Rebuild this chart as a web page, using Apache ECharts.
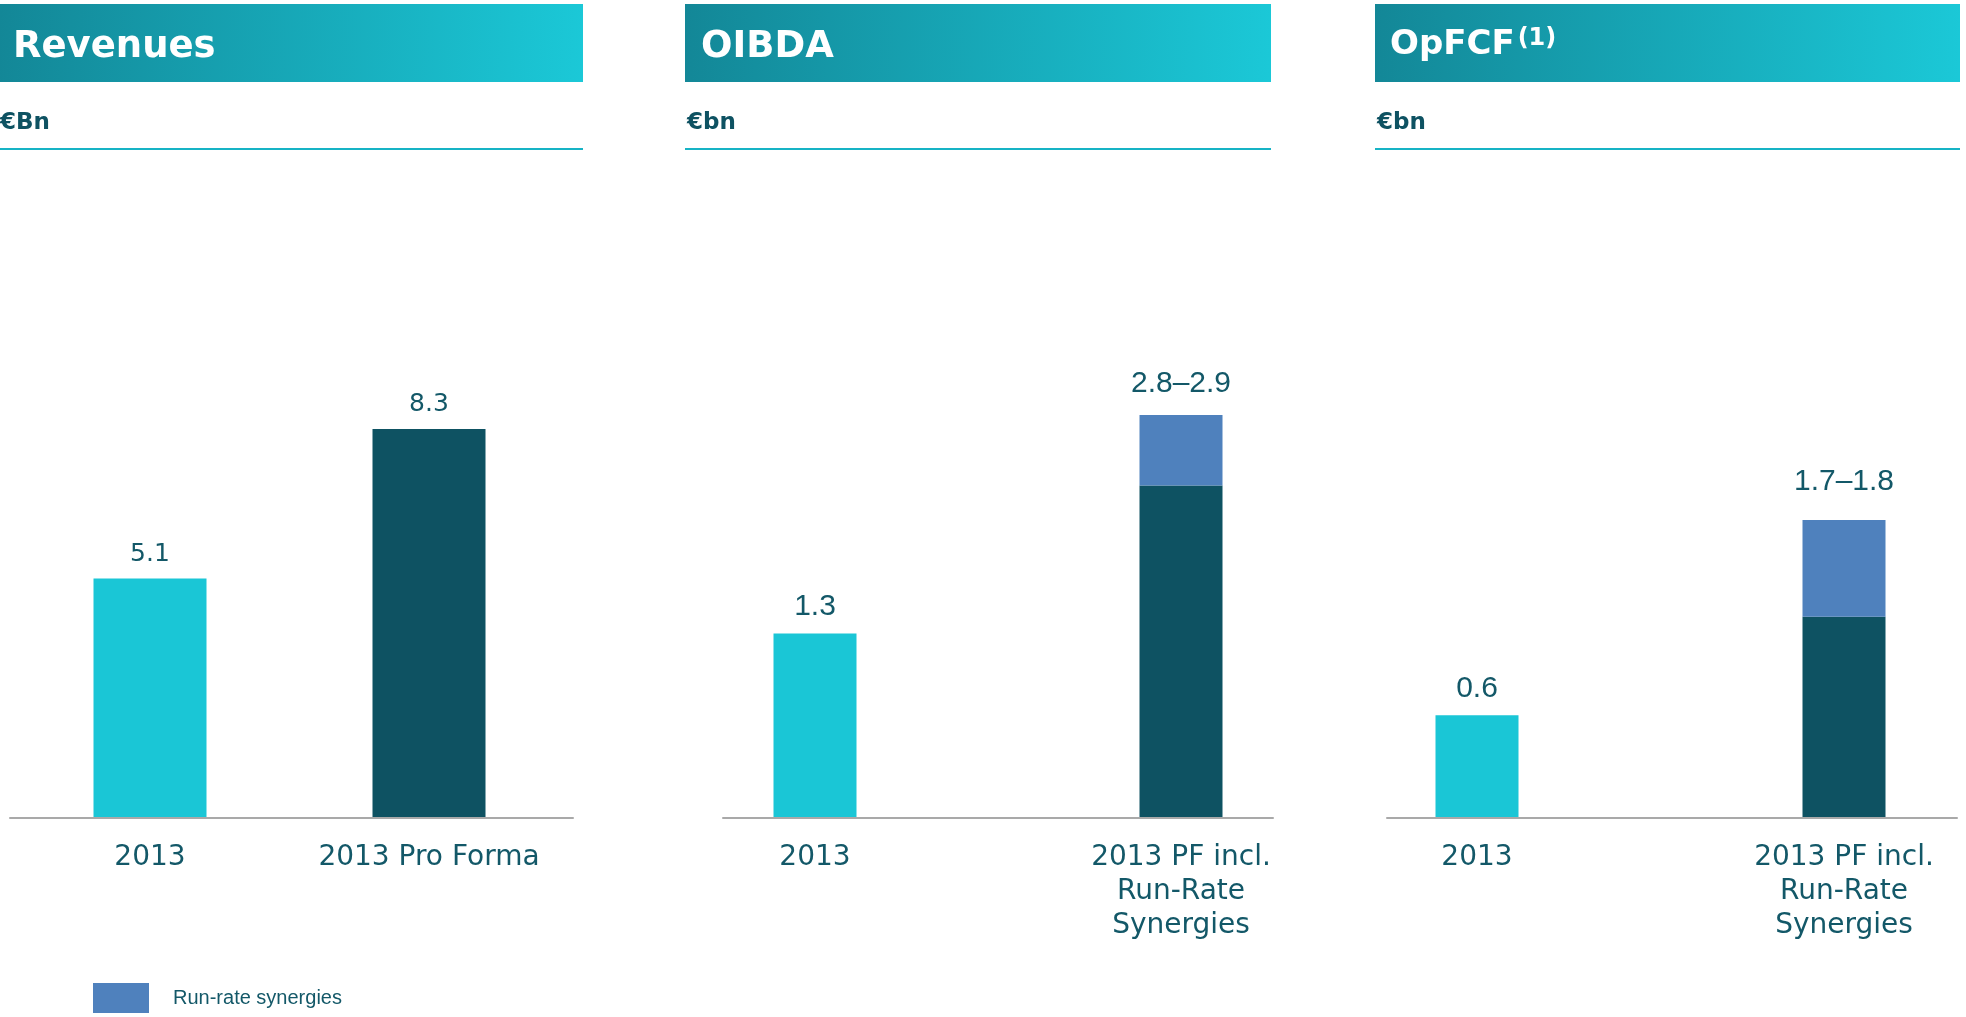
<!DOCTYPE html>
<html>
<head>
<meta charset="utf-8">
<script src="https://cdn.jsdelivr.net/npm/echarts@6/dist/echarts.min.js"></script>
<style>
  html, body { margin: 0; padding: 0; background: #fff; }
  #chart { width: 1966px; height: 1017px; }
</style>
</head>
<body>
<div id="chart"></div>
<script>
// data
const revCategories = ['2013', '2013 Pro Forma'];
const revValues = [5.1, 8.3];

const pfCategories = ['2013', '2013 PF incl.\nRun-Rate\nSynergies'];
const oibdaBase = [1.3, 2.35];
const oibdaSynergies = ['-', 0.5];
const oibdaLabels = ['1.3', '2.8–2.9'];

const opfcfBase = [0.6, 1.18];
const opfcfSynergies = ['-', 0.57];
const opfcfLabels = ['0.6', '1.7–1.8'];

const LIGHT = '#1AC6D6';
const DARK = '#0E5262';
const SYN = '#4F81BD';
const TEXT = '#135868';
const barColors = [LIGHT, DARK];

const catLabel = {
  fontFamily: 'DejaVu Sans',
  fontSize: 28,
  color: TEXT,
  lineHeight: 34,
  margin: 24,
  interval: 0
};

// categories sit on the grid edges so the two bars land where the slide has them
function dataXAxis(idx, cats) {
  return {
    type: 'category', gridIndex: idx, data: cats, boundaryGap: false,
    axisLine: { show: false }, axisTick: { show: false },
    axisLabel: catLabel
  };
}
function dataYAxis(idx, max) {
  return { type: 'value', gridIndex: idx, min: 0, max: max, show: false };
}
function baseItems(values, labels, dist) {
  return values.map((v, i) => ({
    value: v,
    itemStyle: { color: barColors[i] },
    label: { show: i === 0, distance: dist, formatter: labels[i] }
  }));
}

const chart = echarts.init(document.getElementById('chart'));

const headers = [
  { x: 0, w: 583 },
  { x: 685, w: 586 },
  { x: 1375, w: 585 }
];
const baselines = [
  { left: 10, width: 563 },
  { left: 723, width: 550 },
  { left: 1387, width: 570 }
];

const graphics = [];
headers.forEach(h => {
  graphics.push({
    type: 'rect', shape: { x: h.x, y: 4, width: h.w, height: 78 },
    style: { fill: new echarts.graphic.LinearGradient(0, 0, 1, 0.3, [
      { offset: 0, color: '#138797' },
      { offset: 1, color: '#1BC8D7' }
    ]) }
  });
  graphics.push({
    type: 'line', shape: { x1: h.x, y1: 149, x2: h.x + h.w, y2: 149 },
    style: { stroke: '#17B3C5', lineWidth: 2 }
  });
});

const titleFont = { fontFamily: 'DejaVu Sans', fontWeight: 'bold', fontSize: 37, color: '#fff' };
const unitFont = { fontFamily: 'DejaVu Sans', fontWeight: 'bold', fontSize: 23, color: '#0E5262' };

chart.setOption({
  animation: false,
  title: [
    { text: 'Revenues', left: 13, top: 29, padding: 0, textStyle: titleFont },
    { text: 'OIBDA', left: 701, top: 29, padding: 0, textStyle: titleFont },
    {
      text: '{a|OpFCF}{b|(1)}', left: 1390, top: 27, padding: 0,
      textStyle: {
        rich: {
          a: Object.assign({}, titleFont, { fontSize: 34 }),
          b: { fontFamily: 'DejaVu Sans', fontWeight: 'bold', fontSize: 24, color: '#fff', verticalAlign: 'top', padding: [0, 0, 12, 3] }
        }
      }
    },
    { text: '€Bn', left: 0, top: 112, padding: 0, textStyle: unitFont },
    { text: '€bn', left: 687, top: 112, padding: 0, textStyle: unitFont },
    { text: '€bn', left: 1377, top: 112, padding: 0, textStyle: unitFont }
  ],
  legend: {
    data: ['Run-rate synergies'],
    left: 93, top: 983, padding: 0,
    icon: 'rect', itemWidth: 56, itemHeight: 30,
    textStyle: { fontFamily: 'Liberation Sans', fontSize: 20, color: TEXT, padding: [0, 0, 0, 19] }
  },
  graphic: graphics,
  grid: [
    { left: 150, width: 279, top: 200, height: 617 },
    { left: 815, width: 366, top: 200, height: 617 },
    { left: 1477, width: 367, top: 200, height: 617 },
    // baselines
    { left: baselines[0].left, width: baselines[0].width, top: 800, height: 18 },
    { left: baselines[1].left, width: baselines[1].width, top: 800, height: 18 },
    { left: baselines[2].left, width: baselines[2].width, top: 800, height: 18 }
  ],
  xAxis: [
    dataXAxis(0, revCategories),
    dataXAxis(1, pfCategories),
    dataXAxis(2, pfCategories),
    ...[3, 4, 5].map(i => ({
      type: 'value', gridIndex: i, min: 0, max: 1,
      axisLine: { show: true, onZero: false, lineStyle: { color: '#A9A9A9', width: 2 } },
      axisTick: { show: false }, axisLabel: { show: false }, splitLine: { show: false }
    }))
  ],
  yAxis: [
    dataYAxis(0, 13.2),
    dataYAxis(1, 4.374),
    dataYAxis(2, 3.636),
    ...[3, 4, 5].map(i => ({ type: 'value', gridIndex: i, min: 0, max: 1, show: false }))
  ],
  series: [
    {
      name: 'Revenues', type: 'bar', xAxisIndex: 0, yAxisIndex: 0, barWidth: 113, clip: false,
      data: revValues.map((v, i) => ({ value: v, itemStyle: { color: barColors[i] } })),
      label: { show: true, position: 'top', distance: 12, fontFamily: 'DejaVu Sans', fontSize: 25, color: TEXT }
    },
    {
      name: 'OIBDA', type: 'bar', stack: 'oibda', xAxisIndex: 1, yAxisIndex: 1, barWidth: 83, clip: false,
      data: baseItems(oibdaBase, oibdaLabels, 12),
      label: { position: 'top', fontFamily: 'Liberation Sans', fontSize: 30, color: TEXT }
    },
    {
      name: 'Run-rate synergies', type: 'bar', stack: 'oibda', xAxisIndex: 1, yAxisIndex: 1, barWidth: 83, clip: false,
      itemStyle: { color: SYN },
      data: oibdaSynergies,
      label: {
        show: true, position: 'top', distance: 16, fontFamily: 'Liberation Sans', fontSize: 30, color: TEXT,
        formatter: p => oibdaLabels[p.dataIndex]
      }
    },
    {
      name: 'OpFCF', type: 'bar', stack: 'opfcf', xAxisIndex: 2, yAxisIndex: 2, barWidth: 83, clip: false,
      data: baseItems(opfcfBase, opfcfLabels, 11),
      label: { position: 'top', fontFamily: 'Liberation Sans', fontSize: 30, color: TEXT }
    },
    {
      name: 'Run-rate synergies', type: 'bar', stack: 'opfcf', xAxisIndex: 2, yAxisIndex: 2, barWidth: 83, clip: false,
      itemStyle: { color: SYN },
      data: opfcfSynergies,
      label: {
        show: true, position: 'top', distance: 23, fontFamily: 'Liberation Sans', fontSize: 30, color: TEXT,
        formatter: p => opfcfLabels[p.dataIndex]
      }
    }
  ]
});
</script>
</body>
</html>
